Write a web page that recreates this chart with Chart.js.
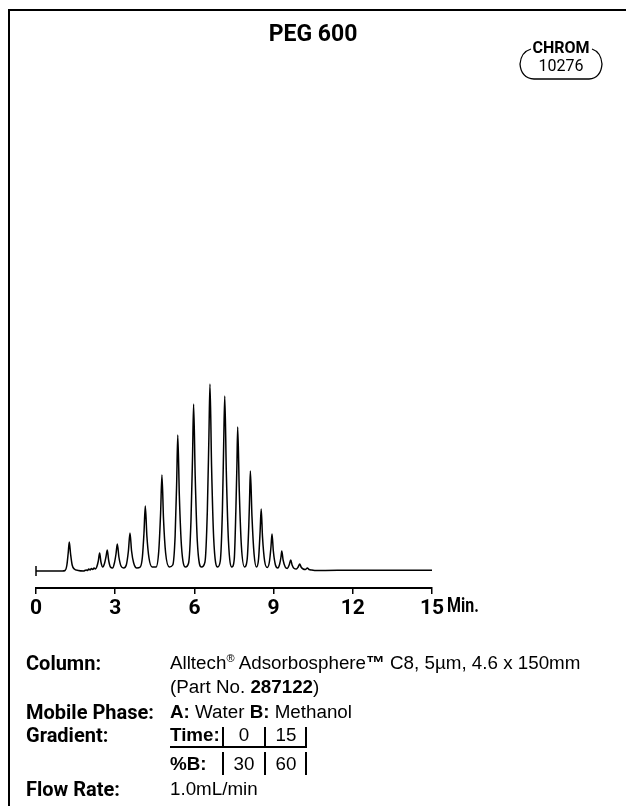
<!DOCTYPE html>
<html>
<head>
<meta charset="utf-8">
<script src="https://cdn.jsdelivr.net/npm/chart.js@4.4.1/dist/chart.umd.min.js"></script>
<style>
  html, body { margin: 0; padding: 0; background: #fff; }
  body { width: 626px; height: 806px; position: relative; overflow: hidden;
         font-family: 'Liberation Sans', Arial, sans-serif; color: #000; }
  #frame { position: absolute; left: 8px; top: 9px; width: 700px; height: 900px;
           border-left: 2px solid #000; border-top: 2px solid #000; }
  #chart { position: absolute; left: 0; top: 0; }
  .t { position: absolute; white-space: nowrap; font-size: 18.8px; line-height: 22px; }
  .b { font-weight: bold; }
  .lab { font-family: Roboto, sans-serif; font-weight: bold; font-size: 20px; }
  .c { text-align: center; width: 40px; }
  .ln { position: absolute; background: #000; }
  #title { position: absolute; left: 0; width: 626px; top: 20px; text-align: center;
           font-family: Roboto, sans-serif; font-size: 23px; font-weight: bold; }
  #badge { position: absolute; left: 515px; top: 38px; width: 92px; height: 46px; font-family: Roboto, sans-serif; }
  #badge .c1 { position: absolute; left: 0; width: 92px; top: 1px; text-align: center; font-size: 16px; font-weight: bold; line-height: 17px; }
  #badge .c2 { position: absolute; left: 0; width: 92px; top: 19px; text-align: center; font-size: 16px; line-height: 17px; }
</style>
</head>
<body>
<div id="frame"></div>
<canvas id="chart" width="626" height="806"></canvas>
<div id="title">PEG 600</div>
<div id="badge">
  <svg width="92" height="46" style="position:absolute;left:0;top:0">
    <path d="M 16 11 Q 6 14 5 26 Q 6 40 19 41 L 74 41 Q 86 40 87 26 Q 86 14 77 11" fill="none" stroke="#000" stroke-width="1.3"/>
  </svg>
  <div class="c1">CHROM</div>
  <div class="c2">10276</div>
</div>

<div class="t lab" style="left:26px;top:652px">Column:</div>
<div class="t" style="left:170px;top:652px">Alltech<span style="font-size:11px;position:relative;top:-7px">®</span> Adsorbosphere<b>™</b> C8, 5µm, 4.6 x 150mm</div>
<div class="t" style="left:170px;top:676px">(Part No. <b>287122</b>)</div>
<div class="t lab" style="left:26px;top:701px">Mobile Phase:</div>
<div class="t" style="left:170px;top:701px"><b>A:</b> Water <b>B:</b> Methanol</div>
<div class="t lab" style="left:26px;top:724px">Gradient:</div>
<div class="t b" style="left:170px;top:724px">Time:</div>
<div class="t c" style="left:224px;top:724px">0</div>
<div class="t c" style="left:266px;top:724px">15</div>
<div class="t b" style="left:170px;top:753px">%B:</div>
<div class="t c" style="left:224px;top:753px">30</div>
<div class="t c" style="left:266px;top:753px">60</div>
<div class="ln" style="left:170px;top:746px;width:137px;height:1.5px"></div>
<div class="ln" style="left:222px;top:727px;width:1.5px;height:20px"></div>
<div class="ln" style="left:264px;top:727px;width:1.5px;height:20px"></div>
<div class="ln" style="left:305px;top:727px;width:1.5px;height:20px"></div>
<div class="ln" style="left:222px;top:752px;width:1.5px;height:23px"></div>
<div class="ln" style="left:264px;top:752px;width:1.5px;height:23px"></div>
<div class="ln" style="left:305px;top:752px;width:1.5px;height:23px"></div>
<div class="t lab" style="left:26px;top:778px">Flow Rate:</div>
<div class="t" style="left:170px;top:778px">1.0mL/min</div>

<script>
// retention time (min) and detector signal
var times = [
  0.00, 0.50, 1.00, 1.10, 1.17, 1.22, 1.26, 1.31, 1.37, 1.45, 1.60, 1.80,
  1.90, 1.95, 2.00, 2.05, 2.10, 2.15, 2.20, 2.25, 2.30, 2.36, 2.41, 2.46,
  2.53, 2.60, 2.65, 2.70, 2.75, 2.82, 2.90, 2.97, 3.03, 3.08, 3.14, 3.22,
  3.32, 3.42, 3.50, 3.56, 3.62, 3.70, 3.82, 3.95, 4.03, 4.09, 4.14, 4.20,
  4.28, 4.40, 4.55, 4.65, 4.72, 4.77, 4.83, 4.91, 5.05, 5.18, 5.27, 5.33,
  5.37, 5.43, 5.51, 5.66, 5.78, 5.87, 5.93, 5.97, 6.03, 6.11, 6.27, 6.40,
  6.49, 6.55, 6.59, 6.65, 6.73, 6.88, 6.98, 7.06, 7.11, 7.15, 7.21, 7.29,
  7.42, 7.51, 7.57, 7.61, 7.64, 7.70, 7.78, 7.90, 8.00, 8.06, 8.09, 8.12,
  8.18, 8.26, 8.35, 8.43, 8.49, 8.53, 8.58, 8.66, 8.76, 8.84, 8.90, 8.94,
  8.99, 9.07, 9.16, 9.23, 9.28, 9.31, 9.36, 9.44, 9.52, 9.59, 9.65, 9.70,
  9.78, 9.86, 9.93, 9.99, 10.04, 10.12, 10.20, 10.28, 10.34, 10.45, 10.60, 10.85,
  12.00, 15.00
];
var signal = [
  0, 0, 0, 0.5, 6, 18, 29, 17, 6, 2, 0.5, 0,
  1, 0.5, 2, 1, 2.5, 1.5, 3, 2, 4, 10, 18, 9,
  4, 8, 14, 21, 11, 4, 3, 8, 17, 27, 14, 5,
  3, 6, 20, 38, 20, 8, 3, 4, 14, 38, 65, 35,
  13, 4, 4, 20, 58, 96, 52, 18, 4, 6, 35, 90,
  136, 75, 25, 4, 8, 50, 115, 167, 95, 30, 4, 9,
  60, 135, 187, 105, 33, 4, 10, 60, 128, 175, 98, 30,
  4, 12, 60, 105, 144, 80, 25, 4, 12, 45, 72, 100,
  55, 17, 4, 12, 40, 62, 34, 10, 3.5, 9, 24, 37,
  20, 6, 3, 7, 14, 20, 11, 4, 2.5, 6, 11, 6,
  2.5, 2, 4, 7, 4, 2, 1.5, 3, 1.5, 1, 0.5, 0.5,
  0.8, 0.8
];
var timeTicks = [0, 3, 6, 9, 12, 15];

var points = times.map(function (t, i) { return { x: t, y: signal[i] }; });

var tickFont = 'Roboto, sans-serif';

// start marker on the baseline and the "Min." unit after the last tick
var extras = {
  id: 'extras',
  afterDraw: function (chart) {
    var ctx = chart.ctx, xs = chart.scales.x, ys = chart.scales.y;
    var x0 = xs.getPixelForValue(0), y0 = ys.getPixelForValue(0);
    ctx.save();
    ctx.strokeStyle = '#000';
    ctx.lineWidth = 1.5;
    ctx.beginPath();
    ctx.moveTo(x0, y0 - 5);
    ctx.lineTo(x0, y0 + 5);
    ctx.stroke();
    ctx.font = 'bold 21px ' + tickFont;
    ctx.fillStyle = '#000';
    ctx.textBaseline = 'top';
    var x15 = xs.getPixelForValue(15);
    var w = ctx.measureText('15').width;
    ctx.translate(x15 + w / 2 + 3, chart.chartArea.bottom + 8);
    ctx.scale(0.76, 1);
    ctx.fillText('Min.', 0, 0);
    ctx.restore();
  }
};

var myChart = new Chart(document.getElementById('chart').getContext('2d'), {
  type: 'line',
  data: {
    datasets: [{
      data: points,
      borderColor: '#000',
      borderWidth: 1.5,
      pointRadius: 0,
      fill: false,
      cubicInterpolationMode: 'monotone'
    }]
  },
  options: {
    responsive: false,
    animation: false,
    layout: { padding: { left: 36, right: 194, top: 371, bottom: 178 } },
    plugins: { legend: { display: false }, tooltip: { enabled: false } },
    scales: {
      x: {
        type: 'linear',
        min: 0,
        max: 15,
        afterFit: function (scale) { scale.height = 40; },
        afterBuildTicks: function (scale) {
          scale.ticks = timeTicks.map(function (v) { return { value: v }; });
        },
        grid: { display: true, drawOnChartArea: false, drawTicks: true, tickLength: 6, color: '#000', lineWidth: 1.5 },
        border: { display: true, color: '#000', width: 2 },
        ticks: { color: '#000', padding: 2, maxRotation: 0, font: { family: tickFont, size: 21, weight: 'bold' } }
      },
      y: {
        display: false,
        min: -17,
        max: 200
      }
    }
  },
  plugins: [extras]
});
</script>
</body>
</html>
